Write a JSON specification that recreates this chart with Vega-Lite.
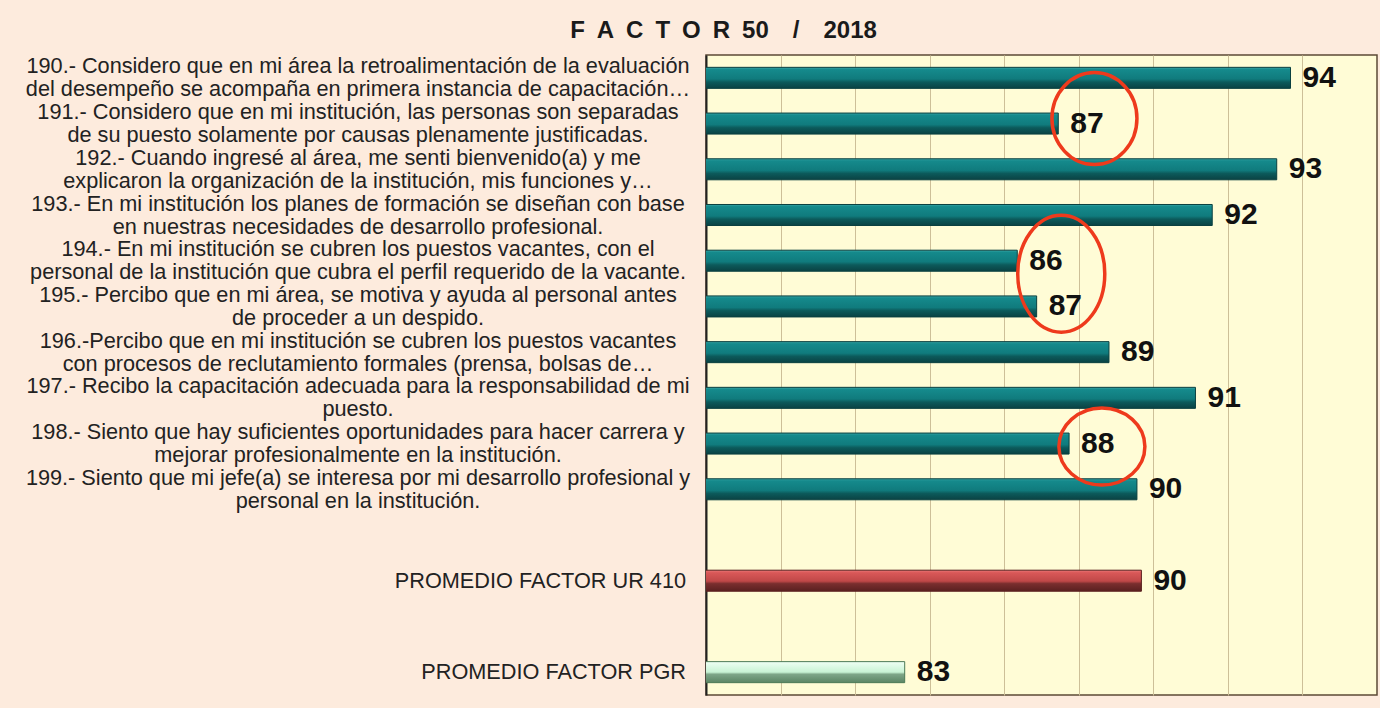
{
  "$schema": "https://vega.github.io/schema/vega-lite/v6.json",
  "width": 671,
  "height": 640,
  "autosize": {"type": "none"},
  "padding": {"left": 706, "top": 55, "right": 3, "bottom": 13},
  "background": "#FDEBDD",
  "title": {
    "text": "F\u2002A\u2002C\u2002T\u2002O\u2002R\u200250\u2002\u2002/\u2002\u20022018",
    "font": "Liberation Sans",
    "fontSize": 24,
    "fontWeight": "bold",
    "color": "#1a1a1a",
    "anchor": "middle",
    "frame": "group",
    "dx": -318,
    "offset": 12
  },
  "data": {
    "values": [
      {"pregunta": "190.- Considero que en mi área la retroalimentación de la evaluación\ndel desempeño se acompaña en primera instancia de capacitación…", "valor": 93.68, "grupo": "reactivo"},
      {"pregunta": "191.- Considero que en mi institución, las personas son separadas\nde su puesto solamente por causas plenamente justificadas.", "valor": 87.45, "grupo": "reactivo"},
      {"pregunta": "192.- Cuando ingresé al área, me senti bienvenido(a) y me\nexplicaron la organización de la institución, mis funciones y…", "valor": 93.31, "grupo": "reactivo"},
      {"pregunta": "193.- En mi institución los planes de formación se diseñan con base\nen nuestras necesidades de desarrollo profesional.", "valor": 91.58, "grupo": "reactivo"},
      {"pregunta": "194.- En mi institución se cubren los puestos vacantes, con el\npersonal de la institución que cubra el perfil requerido de la vacante.", "valor": 86.35, "grupo": "reactivo"},
      {"pregunta": "195.- Percibo que en mi área, se motiva y ayuda al personal antes\nde proceder a un despido.", "valor": 86.87, "grupo": "reactivo"},
      {"pregunta": "196.-Percibo que en mi institución se cubren los puestos vacantes\ncon procesos de reclutamiento formales (prensa, bolsas de…", "valor": 88.81, "grupo": "reactivo"},
      {"pregunta": "197.- Recibo la capacitación adecuada para la responsabilidad de mi\npuesto.", "valor": 91.13, "grupo": "reactivo"},
      {"pregunta": "198.- Siento que hay suficientes oportunidades para hacer carrera y\nmejorar profesionalmente en la institución.", "valor": 87.74, "grupo": "reactivo"},
      {"pregunta": "199.- Siento que mi jefe(a) se interesa por mi desarrollo profesional y\npersonal en la institución.", "valor": 89.56, "grupo": "reactivo"},
      {"pregunta": "PROMEDIO FACTOR UR 410", "valor": 89.68, "grupo": "ur"},
      {"pregunta": "PROMEDIO FACTOR PGR", "valor": 83.33, "grupo": "pgr"}
    ]
  },
  "encoding": {
    "y": {
      "field": "pregunta",
      "type": "nominal",
      "scale": {
        "domain": [
          "190.- Considero que en mi área la retroalimentación de la evaluación\ndel desempeño se acompaña en primera instancia de capacitación…",
          "191.- Considero que en mi institución, las personas son separadas\nde su puesto solamente por causas plenamente justificadas.",
          "192.- Cuando ingresé al área, me senti bienvenido(a) y me\nexplicaron la organización de la institución, mis funciones y…",
          "193.- En mi institución los planes de formación se diseñan con base\nen nuestras necesidades de desarrollo profesional.",
          "194.- En mi institución se cubren los puestos vacantes, con el\npersonal de la institución que cubra el perfil requerido de la vacante.",
          "195.- Percibo que en mi área, se motiva y ayuda al personal antes\nde proceder a un despido.",
          "196.-Percibo que en mi institución se cubren los puestos vacantes\ncon procesos de reclutamiento formales (prensa, bolsas de…",
          "197.- Recibo la capacitación adecuada para la responsabilidad de mi\npuesto.",
          "198.- Siento que hay suficientes oportunidades para hacer carrera y\nmejorar profesionalmente en la institución.",
          "199.- Siento que mi jefe(a) se interesa por mi desarrollo profesional y\npersonal en la institución.",
          " ",
          "PROMEDIO FACTOR UR 410",
          "  ",
          "PROMEDIO FACTOR PGR"
        ],
        "paddingInner": 0.54,
        "paddingOuter": 0.27
      },
      "axis": {
        "title": null,
        "labels": false,
        "ticks": false,
        "domainColor": "#222222",
        "domainWidth": 2,
        "grid": false
      }
    },
    "x": {
      "field": "valor",
      "type": "quantitative",
      "scale": {"domain": [78, 96], "zero": false, "nice": false},
      "axis": {
        "title": null,
        "labels": false,
        "ticks": false,
        "domain": false,
        "grid": true,
        "values": [80, 82, 84, 86, 88, 90, 92, 94],
        "gridColor": "#cdbf98",
        "gridWidth": 1
      }
    }
  },
  "layer": [
    {
      "transform": [{"filter": "datum.grupo == 'reactivo'"}],
      "mark": {"type": "bar", "clip": true, "stroke": "#0a4040", "strokeWidth": 1,
        "color": {"gradient": "linear", "x1": 0, "y1": 0, "x2": 0, "y2": 1, "stops": [{"offset": 0, "color": "#3aa6a6"}, {"offset": 0.1, "color": "#158a8c"}, {"offset": 0.55, "color": "#107b7d"}, {"offset": 0.7, "color": "#0c5a5b"}, {"offset": 1, "color": "#0a4243"}]}}
    },
    {
      "transform": [{"filter": "datum.grupo == 'ur'"}],
      "mark": {"type": "bar", "clip": true, "stroke": "#5a1f1f", "strokeWidth": 1,
        "color": {"gradient": "linear", "x1": 0, "y1": 0, "x2": 0, "y2": 1, "stops": [{"offset": 0, "color": "#ec7878"}, {"offset": 0.12, "color": "#d95858"}, {"offset": 0.52, "color": "#c04848"}, {"offset": 0.64, "color": "#7a2e2e"}, {"offset": 1, "color": "#5a2020"}]}}
    },
    {
      "transform": [{"filter": "datum.grupo == 'pgr'"}],
      "mark": {"type": "bar", "clip": true, "stroke": "#4c7a57", "strokeWidth": 1,
        "color": {"gradient": "linear", "x1": 0, "y1": 0, "x2": 0, "y2": 1, "stops": [{"offset": 0, "color": "#effff4"}, {"offset": 0.5, "color": "#c8f3d4"}, {"offset": 0.6, "color": "#7ea688"}, {"offset": 1, "color": "#5b8564"}]}}
    },
    {
      "mark": {"type": "text", "align": "left", "baseline": "middle", "dx": 12, "font": "Liberation Sans", "fontSize": 30, "fontWeight": "bold", "color": "#111111"},
      "encoding": {
        "text": {"field": "valor", "type": "quantitative", "format": ".0f"}
      }
    },
    {
      "transform": [{"filter": "datum.grupo == 'reactivo'"}],
      "mark": {"type": "text", "align": "center", "baseline": "middle", "lineBreak": "\n", "lineHeight": 23, "dx": -348, "dy": -11.5, "font": "Liberation Sans", "fontSize": 21.7, "color": "#222222"},
      "encoding": {
        "x": {"datum": 78, "type": "quantitative"},
        "text": {"field": "pregunta", "type": "nominal"}
      }
    },
    {
      "transform": [{"filter": "datum.grupo != 'reactivo'"}],
      "mark": {"type": "text", "align": "right", "baseline": "middle", "dx": -20, "font": "Liberation Sans", "fontSize": 21.7, "color": "#222222"},
      "encoding": {
        "x": {"datum": 78, "type": "quantitative"},
        "text": {"field": "pregunta", "type": "nominal"}
      }
    },
    {
      "data": {"values": [{"pregunta": "191.- Considero que en mi institución, las personas son separadas\nde su puesto solamente por causas plenamente justificadas.", "centro": 88.42}]},
      "mark": {"type": "point", "shape": "M -0.924 0 C -0.924 -0.552 -0.51 -1 0 -1 C 0.51 -1 0.924 -0.552 0.924 0 C 0.924 0.552 0.51 1 0 1 C -0.51 1 -0.924 0.552 -0.924 0 Z", "size": 8464, "filled": false, "stroke": "#EE3A1C", "strokeWidth": 3.5, "opacity": 1, "yOffset": -5},
      "encoding": {
        "x": {"field": "centro", "type": "quantitative"}
      }
    },
    {
      "data": {"values": [{"pregunta": "194.- En mi institución se cubren los puestos vacantes, con el\npersonal de la institución que cubra el perfil requerido de la vacante.", "centro": 87.53}]},
      "mark": {"type": "point", "shape": "M -0.744 0 C -0.744 -0.552 -0.411 -1 0 -1 C 0.411 -1 0.744 -0.552 0.744 0 C 0.744 0.552 0.411 1 0 1 C -0.411 1 -0.744 0.552 -0.744 0 Z", "size": 13689, "filled": false, "stroke": "#EE3A1C", "strokeWidth": 3.5, "opacity": 1, "yOffset": 13},
      "encoding": {
        "x": {"field": "centro", "type": "quantitative"}
      }
    },
    {
      "data": {"values": [{"pregunta": "198.- Siento que hay suficientes oportunidades para hacer carrera y\nmejorar profesionalmente en la institución.", "centro": 88.62}]},
      "mark": {"type": "point", "shape": "M -1.117 0 C -1.117 -0.552 -0.617 -1 0 -1 C 0.617 -1 1.117 -0.552 1.117 0 C 1.117 0.552 0.617 1 0 1 C -0.617 1 -1.117 0.552 -1.117 0 Z", "size": 5929, "filled": false, "stroke": "#EE3A1C", "strokeWidth": 3.5, "opacity": 1, "yOffset": 3},
      "encoding": {
        "x": {"field": "centro", "type": "quantitative"}
      }
    }
  ],
  "config": {
    "font": "Liberation Sans",
    "view": {"fill": "#FFFCD6", "stroke": "#5c4a36", "strokeWidth": 1.5}
  }
}
